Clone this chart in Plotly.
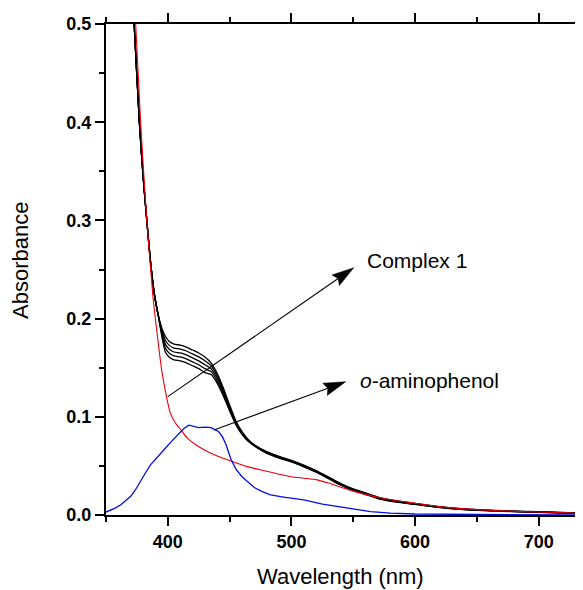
import math
import plotly.graph_objects as go

# ---------------- data ----------------
wl_black = [362, 366, 370, 373, 377, 380, 383, 386, 389, 392,
            395, 398, 401, 405, 410, 415, 420, 425, 430, 435, 440, 445, 450, 455, 460, 465, 470,
            480, 490, 500, 510, 520, 530, 540, 550, 560, 572, 585, 600, 620, 640, 660, 680, 700, 730]

black_head = [0.90, 0.72, 0.575, 0.495, 0.40, 0.345, 0.30, 0.258, 0.226, 0.205]

shoulder_1 = [0.191, 0.182, 0.177, 0.174, 0.173, 0.171, 0.168, 0.165, 0.161, 0.155, 0.144, 0.129, 0.112, 0.096, 0.085, 0.077, 0.0715]
shoulder_2 = [0.189, 0.178, 0.173, 0.170, 0.169, 0.167, 0.164, 0.161, 0.157, 0.152, 0.1415, 0.127, 0.1105, 0.095, 0.0842, 0.0765, 0.0712]
shoulder_3 = [0.187, 0.174, 0.169, 0.166, 0.165, 0.163, 0.160, 0.157, 0.153, 0.149, 0.139, 0.125, 0.109, 0.094, 0.0835, 0.076, 0.0709]
shoulder_4 = [0.185, 0.170, 0.165, 0.162, 0.161, 0.159, 0.156, 0.153, 0.149, 0.146, 0.1365, 0.123, 0.1075, 0.093, 0.0828, 0.0755, 0.0706]
shoulder_5 = [0.183, 0.166, 0.161, 0.158, 0.157, 0.155, 0.152, 0.149, 0.145, 0.143, 0.134, 0.121, 0.106, 0.092, 0.082, 0.075, 0.0703]

tail_1 = [0.0645, 0.0597, 0.0557, 0.0508, 0.0452, 0.0387, 0.0320, 0.0265, 0.0225, 0.0175, 0.0145, 0.0118, 0.0084, 0.0062, 0.0049, 0.0040, 0.0033, 0.0022]
tail_2 = [0.0640, 0.0592, 0.0552, 0.0503, 0.0447, 0.0382, 0.0315, 0.0260, 0.0220, 0.0170, 0.0140, 0.0115, 0.0082, 0.0060, 0.0047, 0.0038, 0.0031, 0.0020]
tail_3 = [0.0636, 0.0588, 0.0548, 0.0499, 0.0443, 0.0378, 0.0311, 0.0256, 0.0216, 0.0166, 0.0137, 0.0112, 0.0080, 0.0058, 0.0045, 0.0036, 0.0029, 0.0019]
tail_4 = [0.0632, 0.0584, 0.0544, 0.0495, 0.0439, 0.0374, 0.0307, 0.0252, 0.0212, 0.0163, 0.0134, 0.0110, 0.0078, 0.0056, 0.0044, 0.0035, 0.0028, 0.0018]
tail_5 = [0.0628, 0.0580, 0.0540, 0.0491, 0.0435, 0.0370, 0.0303, 0.0248, 0.0208, 0.0160, 0.0131, 0.0108, 0.0076, 0.0054, 0.0043, 0.0034, 0.0027, 0.0017]

wl_red = [365, 370, 374, 378, 383, 388, 392, 395, 399, 402, 406, 411, 416, 422, 430, 440, 452, 465,
          480, 490, 500, 510, 520, 530, 540, 550, 560, 572, 585, 600, 620, 640, 660, 680, 700, 730]
red = [0.75, 0.58, 0.50, 0.40, 0.30, 0.222, 0.178, 0.148, 0.120, 0.104, 0.094, 0.086, 0.078, 0.072, 0.066, 0.060, 0.0545, 0.049,
       0.0445, 0.0415, 0.039, 0.0375, 0.036, 0.0325, 0.0283, 0.0243, 0.021, 0.0175, 0.0145, 0.012, 0.0085, 0.0062, 0.0048, 0.0038, 0.003, 0.002]

wl_blue = [350, 353, 357, 362, 366, 370, 374, 378, 382, 386, 390, 394, 398, 403, 408, 413, 417, 421, 425, 430, 435, 438,
           441, 444, 447, 451, 455, 460, 465, 470, 476, 483, 495, 510, 525, 537, 550, 564, 580, 600, 650, 700, 730]
blue = [0.003, 0.0045, 0.0068, 0.0105, 0.0145, 0.019, 0.026, 0.035, 0.043, 0.051, 0.057, 0.062, 0.068, 0.075, 0.082, 0.088, 0.0915,
        0.090, 0.089, 0.0895, 0.089, 0.087, 0.085, 0.080, 0.072, 0.057, 0.047, 0.039, 0.033, 0.028, 0.024, 0.0205, 0.018,
        0.0153, 0.011, 0.0085, 0.006, 0.0035, 0.002, 0.001, 0.0005, 0.0003, 0.0002]

x_ticks = [400, 500, 600, 700]
y_ticks = [0.0, 0.1, 0.2, 0.3, 0.4, 0.5]
x_range = [350, 731]
y_range = [0, 0.5]

labels = ["Complex 1", "<i>o</i>-aminophenol"]
arrow_start = [(400, 0.1205), (437.3, 0.0866)]
arrow_tip = [(550.4, 0.2518), (543.9, 0.1357)]
label_pos = [(559.3, 0.2590), (553.6, 0.1370)]

# ---------------- figure ----------------
OFF = 8  # default page body margin of the written html
PAGE_W, PAGE_H = 583, 590
PL, PR, PT, PB = 106, 577, 24, 515  # plot area edges on the page
W, H = PAGE_W - OFF, PAGE_H - OFF
ML, MT = PL - OFF, PT - OFF
MR, MB = W - (PR - OFF), H - (PB - OFF)
PW, PH = PR - PL, PB - PT
FONT = "Liberation Sans, Arial"

fig = go.Figure()

blacks = [(shoulder_1, tail_1), (shoulder_2, tail_2), (shoulder_3, tail_3), (shoulder_4, tail_4), (shoulder_5, tail_5)]
for sh, tl in blacks:
    fig.add_trace(go.Scatter(x=wl_black, y=black_head + sh + tl, mode="lines",
                             line=dict(color="black", width=1.3, shape="spline", smoothing=0.6),
                             showlegend=False, hoverinfo="skip"))

fig.add_trace(go.Scatter(x=wl_red, y=red, mode="lines",
                         line=dict(color="#e8000b", width=1.1, shape="spline", smoothing=0.6),
                         showlegend=False, hoverinfo="skip"))
fig.add_trace(go.Scatter(x=wl_blue, y=blue, mode="lines", line=dict(color="#0010e0", width=1.3),
                         showlegend=False, hoverinfo="skip"))

pxx = PW / (x_range[1] - x_range[0])
pxy = PH / (y_range[1] - y_range[0])

shapes = []
annotations = []
for (sx, sy), (tx, ty), (lx, ly), lab in zip(arrow_start, arrow_tip, label_pos, labels):
    dx = (tx - sx) * pxx
    dy = (ty - sy) * pxy
    th = math.atan2(dy, dx)
    ux, uy = math.cos(th), math.sin(th)
    nx, ny = -uy, ux
    L, Wd, notch = 22, 6.5, 3
    bx, by = -L * ux, -L * uy
    p1 = (bx + Wd * nx, by + Wd * ny)
    p2 = (bx - Wd * nx, by - Wd * ny)
    p3 = (-(L - notch) * ux, -(L - notch) * uy)
    ex = tx - (L - notch) * ux / pxx
    ey = ty - (L - notch) * uy / pxy
    shapes.append(dict(type="line", xref="x", yref="y", x0=sx, y0=sy, x1=ex, y1=ey,
                       line=dict(color="black", width=1.1)))
    path = "M0,0 L{:.2f},{:.2f} L{:.2f},{:.2f} L{:.2f},{:.2f} Z".format(p1[0], p1[1], p3[0], p3[1], p2[0], p2[1])
    shapes.append(dict(type="path", xref="x", yref="y", xsizemode="pixel", ysizemode="pixel",
                       xanchor=tx, yanchor=ty, path=path, fillcolor="black",
                       line=dict(color="black", width=0.5)))
    annotations.append(dict(x=lx, y=ly, xref="x", yref="y", text=lab, showarrow=False,
                            xanchor="left", yanchor="middle",
                            font=dict(family=FONT, size=21, color="black")))

# axis titles (page-pixel centres converted to paper coords)
annotations.append(dict(x=(340 - PL) / PW, y=0, xref="paper", yref="paper", yshift=-(576 - PB),
                        text="Wavelength (nm)", showarrow=False, xanchor="center", yanchor="middle",
                        font=dict(family=FONT, size=22, color="black")))
annotations.append(dict(x=0, y=(PB - 261) / PH, xref="paper", yref="paper", xshift=-(PL - 20),
                        text="Absorbance", showarrow=False, textangle=-90, xanchor="center", yanchor="middle",
                        font=dict(family=FONT, size=22, color="black")))

axis_common = dict(showline=True, linewidth=2, linecolor="black", mirror="ticks",
                   ticks="outside", ticklen=9, tickwidth=2, tickcolor="black",
                   showgrid=False, zeroline=False, automargin=False,
                   tickfont=dict(family=FONT, size=18, color="black", weight="bold"))

fig.update_layout(
    width=W, height=H, margin=dict(l=ML, r=MR, t=MT, b=MB, autoexpand=False),
    paper_bgcolor="white", plot_bgcolor="white",
    shapes=shapes, annotations=annotations,
    xaxis=dict(range=x_range, tickvals=x_ticks, ticktext=[str(v) for v in x_ticks],
               minor=dict(dtick=50, tick0=350, ticks="outside", ticklen=5, tickwidth=2, tickcolor="black"),
               **axis_common),
    yaxis=dict(range=y_range, tickvals=y_ticks, ticktext=["{:.1f}".format(v) for v in y_ticks],
               minor=dict(dtick=0.05, tick0=0, ticks="outside", ticklen=5, tickwidth=2, tickcolor="black"),
               **axis_common),
)

fig.write_html("out.html")
